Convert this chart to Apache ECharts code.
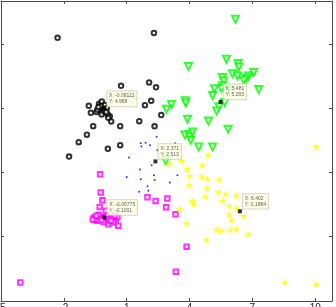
<!DOCTYPE html>
<html>
<head>
<meta charset="utf-8">
<script src="https://cdn.jsdelivr.net/npm/echarts@6/dist/echarts.min.js"></script>
<style>
  html, body { margin: 0; padding: 0; background: #fff; }
  #main { width: 336px; height: 307px; }
</style>
</head>
<body>
<div id="main"></div>
<script>
// x tick labels along the bottom
var xTicks = [-5, -2, 1, 4, 7, 10];

// cluster 1 - black open circles
var blackPts = [
  [-2.30, 8.28], [2.30, 8.51], [0.73, 6.04], [2.07, 6.20], [2.40, 5.97],
  [2.17, 5.34], [1.87, 5.14], [2.65, 4.68], [-0.81, 5.11], [-0.71, 4.78],
  [-0.44, 4.82], [-0.32, 5.20], [-0.19, 5.31], [-0.29, 5.00], [-0.16, 4.81],
  [-0.40, 4.93], [0.19, 4.62], [0.26, 4.38], [0.08, 4.73], [-0.05, 5.15],
  [0.05, 5.01], [-0.60, 4.16], [0.69, 4.16], [1.60, 4.39], [2.33, 4.15],
  [-0.90, 3.76], [-1.29, 3.41], [0.10, 3.11], [0.69, 3.27], [-1.75, 2.74],
  [-0.24, 5.10], [-0.08, 4.90], [0.12, 4.55], [-0.20, 4.70], [0.02, 4.82],
  [-0.35, 5.05]
];

// cluster 2 - green open down triangles
var greenPts = [
  [6.19, 9.15], [5.76, 7.28], [6.32, 7.08], [6.35, 6.92], [3.95, 6.94],
  [6.05, 6.61], [6.29, 6.50], [7.06, 6.66], [6.82, 6.50], [6.71, 6.40],
  [6.59, 6.30], [5.57, 6.43], [5.63, 6.27], [5.57, 6.04], [5.52, 5.91],
  [5.86, 5.90], [5.18, 5.91], [7.30, 5.87], [5.10, 5.59], [5.68, 5.26],
  [5.40, 5.06], [5.29, 4.87], [3.80, 5.34], [3.82, 5.24], [3.14, 5.17],
  [2.90, 4.95], [3.90, 4.48], [4.90, 4.40], [5.84, 4.02], [3.78, 3.75],
  [3.99, 3.78], [4.01, 3.66], [4.06, 3.50], [4.44, 3.19], [5.10, 3.19],
  [2.86, 2.54], [4.14, 3.89]
];

// cluster 3 - blue dots
var bluePts = [
  [2.43, 3.67], [1.67, 3.36], [1.90, 3.39], [2.11, 3.27], [1.70, 3.21],
  [1.11, 2.70], [3.31, 3.36], [2.46, 3.04], [2.19, 2.33], [1.63, 2.14],
  [1.00, 1.79], [1.67, 1.68], [2.30, 1.87], [2.33, 1.65], [3.42, 1.87],
  [3.06, 1.53], [1.99, 1.35], [2.03, 1.14], [1.60, 1.10]
];

// cluster 4 - magenta open squares
var magentaPts = [
  [-0.27, 1.92], [-0.24, 1.06], [-0.16, 0.70], [-0.29, 0.39], [0.00, 0.21],
  [-0.48, -0.18], [-0.37, -0.11], [-0.24, -0.07], [-0.11, -0.14], [0.05, -0.07],
  [0.16, -0.18], [0.32, -0.11], [0.48, -0.18], [0.56, -0.07], [0.11, -0.42],
  [0.37, -0.34], [0.60, -0.49], [-0.40, -0.26], [-0.57, -0.10], [-0.52, -0.21],
  [-0.33, 0.02], [-0.10, -0.31], [-0.62, -0.20], [-0.45, -0.02], [0.25, -0.25],
  [-0.20, -0.22], [0.42, -0.02], [1.99, 0.84], [2.38, 0.67], [2.94, 0.78],
  [2.88, 0.38], [3.33, 0.05], [3.86, -1.47], [3.35, -2.64], [-4.08, -3.14]
];

// cluster 5 - yellow stars
var yellowPts = [
  [4.89, 2.80], [3.62, 2.54], [3.06, 2.42], [4.60, 2.34], [3.88, 2.15],
  [4.01, 1.84], [4.57, 1.81], [4.84, 1.72], [5.40, 1.67], [3.97, 1.40],
  [4.82, 1.25], [5.37, 1.08], [5.71, 1.01], [6.24, 0.91], [4.74, 0.88],
  [4.12, 0.67], [4.20, 0.52], [5.57, 0.67], [3.54, 0.28], [5.89, 0.44],
  [6.24, 0.33], [5.89, 0.05], [6.56, -0.03], [6.00, -0.21], [3.86, -0.39],
  [5.29, -0.68], [5.49, -0.73], [5.95, -0.68], [6.24, -0.65], [6.80, -0.88],
  [4.81, -1.16], [8.54, -3.14], [10.05, -3.22], [10.05, 3.19]
];

// centroids with data tips
var tipX = [-0.08112, 5.481, 2.371, -0.06775, 6.402];
var tipY = [4.968, 5.293, 2.513, -0.1001, 0.1884];

var star = 'path://M50,0 L61,35 L98,35 L68,57 L79,91 L50,70 L21,91 L32,57 L2,35 L39,35 Z';

var tipData = tipX.map(function (x, i) { return [x, tipY[i]]; });

var chart = echarts.init(document.getElementById('main'), null, { renderer: 'canvas' });

var frameLine = { show: true, onZero: false, lineStyle: { color: '#4a4a4a', width: 1 } };
var tick = { show: true, inside: true, length: 3, lineStyle: { color: '#4a4a4a' } };

var option = {
  animation: false,
  backgroundColor: '#fff',
  grid: { left: 1, right: 4, top: 1, bottom: 6, containLabel: false, outerBoundsMode: 'none' },
  xAxis: [{
    type: 'value', min: -5, max: 10.8, interval: 3,
    axisLine: frameLine, axisTick: tick,
    splitLine: { show: false },
    axisLabel: {
      show: true, margin: 2, fontSize: 10, color: '#222',
      fontFamily: 'Liberation Sans', showMaxLabel: false, hideOverlap: false,
      formatter: function (v) { return xTicks.indexOf(v) >= 0 ? String(v) : ''; }
    }
  }, {
    type: 'value', position: 'top', min: -5, max: 10.8, interval: 3,
    axisLine: frameLine, axisTick: tick,
    splitLine: { show: false },
    axisLabel: { show: false }
  }],
  yAxis: [{
    type: 'value', min: -4, max: 10, interval: 3,
    axisLine: frameLine, axisTick: tick,
    splitLine: { show: false },
    axisLabel: { show: false }
  }, {
    type: 'value', position: 'right', min: -4, max: 10, interval: 3,
    axisLine: frameLine, axisTick: tick,
    splitLine: { show: false },
    axisLabel: { show: false }
  }],
  series: [{
    type: 'scatter', data: blackPts,
    symbol: 'emptyCircle', symbolSize: 4.5,
    itemStyle: { color: '#000', borderWidth: 1.6 }
  }, {
    type: 'scatter', data: greenPts,
    symbol: 'emptyTriangle', symbolRotate: 180, symbolSize: 7,
    itemStyle: { color: '#00ff00', borderWidth: 1.2 }
  }, {
    type: 'scatter', data: bluePts,
    symbol: 'circle', symbolSize: 2,
    itemStyle: { color: '#0000ff' }
  }, {
    type: 'scatter', data: magentaPts,
    symbol: 'emptyRect', symbolSize: 4.5,
    itemStyle: { color: '#ff00ff', borderWidth: 1.2 }
  }, {
    type: 'scatter', data: yellowPts,
    symbol: star, symbolSize: 8,
    itemStyle: { color: '#ffff00' }
  }, {
    type: 'scatter', data: tipData, z: 10,
    symbol: 'rect', symbolSize: 4,
    itemStyle: { color: '#000' },
    label: {
      show: true, position: [5, -15.5],
      fontSize: 5, lineHeight: 6, color: '#333',
      fontFamily: 'Liberation Sans',
      backgroundColor: '#ffffe1', borderColor: '#c8c8b0', borderWidth: 0.8,
      padding: [1.5, 2],
      formatter: function (p) {
        return 'X: ' + tipX[p.dataIndex] + '\nY: ' + tipY[p.dataIndex];
      }
    }
  }]
};

chart.setOption(option);
</script>
</body>
</html>
